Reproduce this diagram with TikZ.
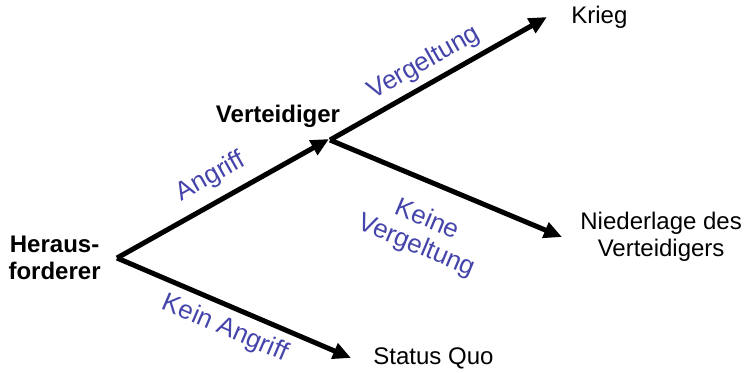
\documentclass[tikz,border=0pt]{standalone}
\usepackage{fontspec}
\setmainfont{Liberation Sans}
\usetikzlibrary{arrows.meta, positioning}
\definecolor{moveblue}{RGB}{68,68,170}

\begin{document}
\begin{tikzpicture}[
  x=0.5pt, y=-0.5pt,
  >={Triangle[length=9pt, width=8pt]},
  player/.style={font=\fontsize{12}{13.5}\selectfont\bfseries, align=center, inner sep=1pt},
  outcome/.style={font=\fontsize{12}{13.5}\selectfont, align=center, inner sep=1pt},
  move/.style={font=\fontsize{13}{14}\selectfont, text=moveblue, align=center, inner sep=1pt, sloped},
  arrow/.style={->, line width=2.5pt}
]
  \useasboundingbox (0,0) rectangle (744,372);

  % Entscheidungspunkte
  \coordinate (h) at (117,258);
  \coordinate (v) at (330,140);
  \node[player, left=7pt of h] (heraus) {Heraus-\\forderer};
  \node[player] (verteidiger) at (278,116) {Verteidiger};

  % Pfeilspitzen
  \coordinate (vtip) at (329,139);
  \coordinate (ktip) at (547,17);
  \coordinate (ntip) at (562,237);
  \coordinate (stip) at (351,358);

  % Ergebnisse
  \node[outcome, right=11pt of ktip] (krieg) {Krieg};
  \node[outcome, right=8pt of ntip] (niederlage) {Niederlage des\\Verteidigers};
  \node[outcome, right=10pt of stip] (status) {Status Quo};

  % Zuege
  \draw[arrow] (h) -- node[move, above=4pt, pos=0.5] (angriff) {Angriff} (vtip);
  \draw[arrow] (h) -- node[move, below=3pt, pos=0.5] (keinangriff) {Kein Angriff} (stip);
  \draw[arrow] (v) -- node[move, above=2pt, pos=0.48] (vergeltung) {Vergeltung} (ktip);
  \draw[arrow] (v) -- node[move, below=10pt, pos=0.48] (keine) {Keine\\Vergeltung} (ntip);

\end{tikzpicture}
\end{document}
